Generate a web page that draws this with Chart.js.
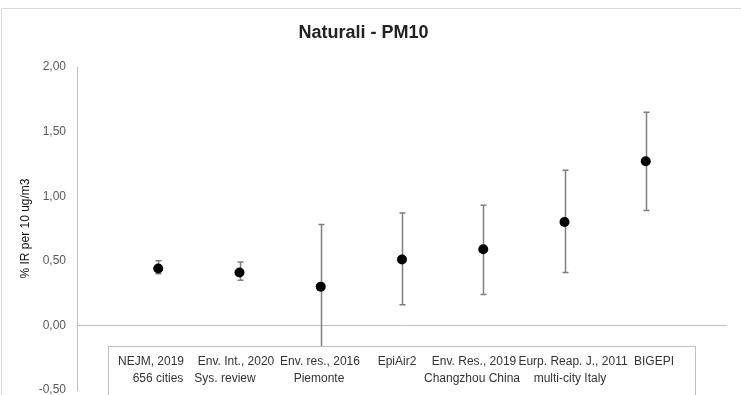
<!DOCTYPE html>
<html>
<head>
<meta charset="utf-8">
<script src="https://cdn.jsdelivr.net/npm/chart.js@4"></script>
<style>
  html, body { margin: 0; padding: 0; background: #fff; overflow: hidden; }
  #wrap { width: 741px; height: 395px; }
</style>
</head>
<body>
<div id="wrap"><canvas id="chart" width="741" height="395"></canvas></div>
<script>
// data
const categories = [
    ['NEJM, 2019', '656 cities'],
    ['Env. Int., 2020', 'Sys. review'],
    ['Env. res., 2016', 'Piemonte'],
    ['EpiAir2', ''],
    ['Env. Res., 2019', 'Changzhou China'],
    ['Eurp. Reap. J., 2011', 'multi-city Italy'],
    ['BIGEPI', '']
];
const estimates = [0.44, 0.41, 0.30, 0.51, 0.59, 0.80, 1.27];
const lower = [0.40, 0.35, -0.22, 0.16, 0.24, 0.41, 0.89];
const upper = [0.50, 0.49, 0.78, 0.87, 0.93, 1.20, 1.65];
const yMin = -0.5, yMax = 2.0, yStep = 0.5;

// text box under the plot (hand placed in the original)
const line1X = [151, 236, 320, 397, 474, 573, 654];
const line2X = [158, 225, 319, 0, 472, 570, 0];

const FONT = "'Liberation Sans', Arial, sans-serif";

const errorBars = {
    id: 'errorBars',
    beforeDatasetsDraw(chart) {
        const ctx = chart.ctx;
        const xs = chart.scales.x, ys = chart.scales.y;
        ctx.save();
        ctx.strokeStyle = '#7f7f7f';
        ctx.lineWidth = 1.5;
        estimates.forEach((v, i) => {
            const x = Math.round(xs.getPixelForValue(i + 1)) + 0.5;
            const yl = ys.getPixelForValue(lower[i]);
            const yh = ys.getPixelForValue(upper[i]);
            ctx.beginPath();
            ctx.moveTo(x, yl); ctx.lineTo(x, yh);
            ctx.moveTo(x - 3, yl); ctx.lineTo(x + 3, yl);
            ctx.moveTo(x - 3, yh); ctx.lineTo(x + 3, yh);
            ctx.stroke();
        });
        ctx.restore();
    }
};

const labelBox = {
    id: 'labelBox',
    afterDatasetsDraw(chart) {
        const ctx = chart.ctx;
        ctx.save();
        ctx.fillStyle = '#fff';
        ctx.fillRect(108, 346, 587, 60);
        ctx.strokeStyle = '#bfbfbf';
        ctx.lineWidth = 1;
        ctx.strokeRect(108.5, 346.5, 587, 60);
        ctx.fillStyle = '#333';
        ctx.font = '12px ' + FONT;
        ctx.textAlign = 'center';
        ctx.textBaseline = 'middle';
        categories.forEach((c, i) => {
            ctx.fillText(c[0], line1X[i], 362);
            if (c[1]) ctx.fillText(c[1], line2X[i], 379);
        });
        ctx.restore();
    },
    afterDraw(chart) {
        // outer chart border (top and left visible)
        const ctx = chart.ctx;
        ctx.save();
        ctx.strokeStyle = '#d9d9d9';
        ctx.lineWidth = 1;
        ctx.beginPath();
        ctx.moveTo(1.5, 400); ctx.lineTo(1.5, 8.5); ctx.lineTo(741, 8.5);
        ctx.stroke();
        ctx.restore();
    }
};

new Chart(document.getElementById('chart'), {
    type: 'scatter',
    data: {
        datasets: [{
            label: 'Naturali - PM10',
            data: estimates.map((v, i) => ({ x: i + 1, y: v })),
            backgroundColor: '#000',
            borderColor: '#000',
            borderWidth: 0,
            pointRadius: 5,
            pointHoverRadius: 5
        }]
    },
    options: {
        responsive: false,
        animation: false,
        layout: { padding: { left: 0, right: 14, top: 0, bottom: 2 } },
        plugins: {
            legend: { display: false },
            tooltip: { enabled: false },
            title: {
                display: true,
                text: 'Naturali - PM10',
                color: '#222',
                font: { family: FONT, size: 18, weight: 'bold', lineHeight: 1.2 },
                padding: { top: 22, bottom: 23.4 }
            }
        },
        scales: {
            x: { type: 'linear', min: 0, max: 8, display: false },
            y: {
                min: yMin, max: yMax,
                afterFit(scale) {
                    scale.width = 77;
                    scale.paddingTop = 0;
                    scale.paddingBottom = 0;
                },
                ticks: {
                    stepSize: yStep,
                    color: '#595959',
                    padding: 11,
                    font: { family: FONT, size: 12 },
                    callback: v => v.toFixed(2).replace('.', ',')
                },
                grid: {
                    drawTicks: false,
                    color: c => c.tick && c.tick.value === 0 ? '#bfbfbf' : 'rgba(0,0,0,0)'
                },
                border: { color: '#bfbfbf' },
                title: {
                    display: true,
                    text: '% IR per 10 ug/m3',
                    color: '#111',
                    font: { family: FONT, size: 12 },
                    padding: { top: 18, bottom: 0 }
                }
            }
        }
    },
    plugins: [errorBars, labelBox]
});
</script>
</body>
</html>
